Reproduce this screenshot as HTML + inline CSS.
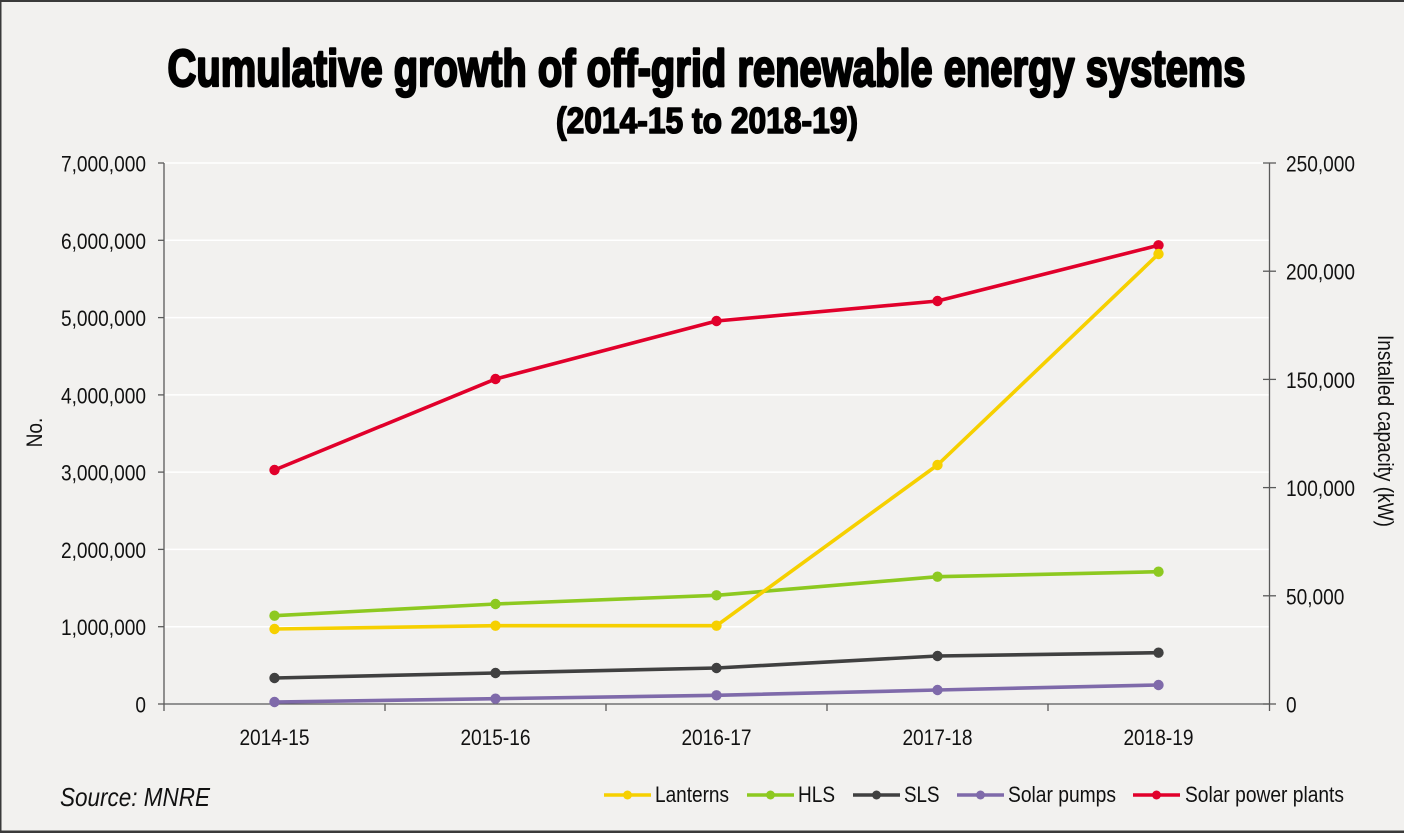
<!DOCTYPE html>
<html>
<head>
<meta charset="utf-8">
<style>
  html, body { margin:0; padding:0; background:#f2f1ef; }
  svg { display:block; }
  text { font-family: "Liberation Sans", Arial, sans-serif; fill:#111; }
</style>
</head>
<body>
<svg width="1404" height="833" viewBox="0 0 1404 833" xmlns="http://www.w3.org/2000/svg">
  <rect x="0" y="0" width="1404" height="833" fill="#f2f1ef"/>
  <!-- frame -->
  <rect x="0" y="0" width="1404" height="2" fill="#3a3a3a"/>
  <rect x="0" y="0" width="1.5" height="833" fill="#3a3a3a"/>
  <rect x="0" y="830.5" width="1404" height="2.5" fill="#3a3a3a"/>

  <!-- title -->
  <text x="706.5" y="86" font-size="52" font-weight="bold" text-anchor="middle" textLength="1078" lengthAdjust="spacingAndGlyphs" stroke="#000" stroke-width="2.4" stroke-linejoin="round" style="fill:#000">Cumulative growth of off-grid renewable energy systems</text>
  <text x="707" y="133" font-size="36" font-weight="bold" text-anchor="middle" textLength="302" lengthAdjust="spacingAndGlyphs" stroke="#000" stroke-width="1.6" stroke-linejoin="round" style="fill:#000">(2014-15 to 2018-19)</text>

  <!-- gridlines -->
  <g stroke="#ffffff" stroke-width="1.5">
    <line x1="164" y1="163" x2="1269" y2="163"/>
    <line x1="164" y1="240.3" x2="1269" y2="240.3"/>
    <line x1="164" y1="317.6" x2="1269" y2="317.6"/>
    <line x1="164" y1="394.9" x2="1269" y2="394.9"/>
    <line x1="164" y1="472.1" x2="1269" y2="472.1"/>
    <line x1="164" y1="549.4" x2="1269" y2="549.4"/>
    <line x1="164" y1="626.7" x2="1269" y2="626.7"/>
  </g>

  <!-- axes -->
  <g stroke="#5a5a5a" stroke-width="1.3" fill="none">
    <line x1="164" y1="163" x2="164" y2="711"/>
    <line x1="1269.5" y1="163" x2="1269.5" y2="711"/>
    <line x1="164" y1="704" x2="1269.5" y2="704"/>
    <line x1="158" y1="163" x2="164" y2="163"/>
    <line x1="158" y1="240.3" x2="164" y2="240.3"/>
    <line x1="158" y1="317.6" x2="164" y2="317.6"/>
    <line x1="158" y1="394.9" x2="164" y2="394.9"/>
    <line x1="158" y1="472.1" x2="164" y2="472.1"/>
    <line x1="158" y1="549.4" x2="164" y2="549.4"/>
    <line x1="158" y1="626.7" x2="164" y2="626.7"/>
    <line x1="158" y1="704" x2="164" y2="704"/>
    <line x1="1263" y1="163" x2="1276" y2="163"/>
    <line x1="1263" y1="271.2" x2="1276" y2="271.2"/>
    <line x1="1263" y1="379.4" x2="1276" y2="379.4"/>
    <line x1="1263" y1="487.6" x2="1276" y2="487.6"/>
    <line x1="1263" y1="595.8" x2="1276" y2="595.8"/>
    <line x1="1263" y1="704" x2="1276" y2="704"/>
    <line x1="385" y1="704" x2="385" y2="711"/>
    <line x1="606" y1="704" x2="606" y2="711"/>
    <line x1="827" y1="704" x2="827" y2="711"/>
    <line x1="1048" y1="704" x2="1048" y2="711"/>
  </g>

  <!-- left tick labels -->
  <g font-size="22" text-anchor="end">
    <text x="146" y="171.5" textLength="85" lengthAdjust="spacingAndGlyphs">7,000,000</text>
    <text x="146" y="248.8" textLength="85" lengthAdjust="spacingAndGlyphs">6,000,000</text>
    <text x="146" y="326.1" textLength="85" lengthAdjust="spacingAndGlyphs">5,000,000</text>
    <text x="146" y="403.4" textLength="85" lengthAdjust="spacingAndGlyphs">4,000,000</text>
    <text x="146" y="480.6" textLength="85" lengthAdjust="spacingAndGlyphs">3,000,000</text>
    <text x="146" y="557.9" textLength="85" lengthAdjust="spacingAndGlyphs">2,000,000</text>
    <text x="146" y="635.2" textLength="85" lengthAdjust="spacingAndGlyphs">1,000,000</text>
    <text x="146" y="712.5" textLength="10.6" lengthAdjust="spacingAndGlyphs">0</text>
  </g>

  <!-- right tick labels -->
  <g font-size="22">
    <text x="1286" y="171.5" textLength="69" lengthAdjust="spacingAndGlyphs">250,000</text>
    <text x="1286" y="279.7" textLength="69" lengthAdjust="spacingAndGlyphs">200,000</text>
    <text x="1286" y="387.9" textLength="69" lengthAdjust="spacingAndGlyphs">150,000</text>
    <text x="1286" y="496.1" textLength="69" lengthAdjust="spacingAndGlyphs">100,000</text>
    <text x="1286" y="604.3" textLength="58.4" lengthAdjust="spacingAndGlyphs">50,000</text>
    <text x="1286" y="712.5" textLength="10.6" lengthAdjust="spacingAndGlyphs">0</text>
  </g>

  <!-- x labels -->
  <g font-size="22" text-anchor="middle">
    <text x="274.5" y="745" textLength="70.1" lengthAdjust="spacingAndGlyphs">2014-15</text>
    <text x="495.5" y="745" textLength="70.1" lengthAdjust="spacingAndGlyphs">2015-16</text>
    <text x="716.5" y="745" textLength="70.1" lengthAdjust="spacingAndGlyphs">2016-17</text>
    <text x="937.5" y="745" textLength="70.1" lengthAdjust="spacingAndGlyphs">2017-18</text>
    <text x="1158.5" y="745" textLength="70.1" lengthAdjust="spacingAndGlyphs">2018-19</text>
  </g>

  <!-- axis titles -->
  <text x="0" y="0" font-size="22" text-anchor="middle" textLength="29.7" lengthAdjust="spacingAndGlyphs" transform="translate(42,432.5) rotate(-90)">No.</text>
  <text x="0" y="0" font-size="22" text-anchor="middle" textLength="192" lengthAdjust="spacingAndGlyphs" transform="translate(1378,431) rotate(90)">Installed capacity (kW)</text>

  <!-- series -->
  <g fill="none" stroke-width="3.6" stroke-linejoin="round" stroke-linecap="round">
    <polyline stroke="#7f6aaa" points="274.5,702 495.5,698.7 716.5,695.3 937.5,690 1158.5,685"/>
    <polyline stroke="#404040" points="274.5,678 495.5,673 716.5,668 937.5,656 1158.5,652.7"/>
    <polyline stroke="#8dc920" points="274.5,615.7 495.5,604 716.5,595.3 937.5,576.7 1158.5,571.7"/>
    <polyline stroke="#e1002b" points="274.5,470 495.5,379 716.5,321 937.5,301 1158.5,245.3"/>
    <polyline stroke="#f6d000" points="274.5,629 495.5,625.7 716.5,625.7 937.5,465 1158.5,254"/>
  </g>
  <g>
    <g fill="#7f6aaa">
      <circle cx="274.5" cy="702" r="5.2"/><circle cx="495.5" cy="698.7" r="5.2"/><circle cx="716.5" cy="695.3" r="5.2"/><circle cx="937.5" cy="690" r="5.2"/><circle cx="1158.5" cy="685" r="5.2"/>
    </g>
    <g fill="#404040">
      <circle cx="274.5" cy="678" r="5.2"/><circle cx="495.5" cy="673" r="5.2"/><circle cx="716.5" cy="668" r="5.2"/><circle cx="937.5" cy="656" r="5.2"/><circle cx="1158.5" cy="652.7" r="5.2"/>
    </g>
    <g fill="#8dc920">
      <circle cx="274.5" cy="615.7" r="5.2"/><circle cx="495.5" cy="604" r="5.2"/><circle cx="716.5" cy="595.3" r="5.2"/><circle cx="937.5" cy="576.7" r="5.2"/><circle cx="1158.5" cy="571.7" r="5.2"/>
    </g>
    <g fill="#e1002b">
      <circle cx="274.5" cy="470" r="5.2"/><circle cx="495.5" cy="379" r="5.2"/><circle cx="716.5" cy="321" r="5.2"/><circle cx="937.5" cy="301" r="5.2"/><circle cx="1158.5" cy="245.3" r="5.2"/>
    </g>
    <g fill="#f6d000">
      <circle cx="274.5" cy="629" r="5.2"/><circle cx="495.5" cy="625.7" r="5.2"/><circle cx="716.5" cy="625.7" r="5.2"/><circle cx="937.5" cy="465" r="5.2"/><circle cx="1158.5" cy="254" r="5.2"/>
    </g>
  </g>

  <!-- source -->
  <text x="60" y="806" font-size="26" font-style="italic" textLength="150" lengthAdjust="spacingAndGlyphs">Source: MNRE</text>

  <!-- legend -->
  <g stroke-width="3.4" stroke-linecap="butt">
    <line x1="604" y1="795" x2="651" y2="795" stroke="#f6d000"/>
    <line x1="747" y1="795" x2="794" y2="795" stroke="#8dc920"/>
    <line x1="853" y1="795" x2="900" y2="795" stroke="#404040"/>
    <line x1="957" y1="795" x2="1004" y2="795" stroke="#7f6aaa"/>
    <line x1="1133" y1="795" x2="1180" y2="795" stroke="#e1002b"/>
  </g>
  <circle cx="627.5" cy="795" r="4.5" fill="#f6d000"/>
  <circle cx="770.5" cy="795" r="4.5" fill="#8dc920"/>
  <circle cx="876.5" cy="795" r="4.5" fill="#404040"/>
  <circle cx="980.5" cy="795" r="4.5" fill="#7f6aaa"/>
  <circle cx="1156.5" cy="795" r="4.5" fill="#e1002b"/>
  <g font-size="22">
    <text x="655" y="802" textLength="74" lengthAdjust="spacingAndGlyphs">Lanterns</text>
    <text x="798" y="802" textLength="37" lengthAdjust="spacingAndGlyphs">HLS</text>
    <text x="904" y="802" textLength="35.5" lengthAdjust="spacingAndGlyphs">SLS</text>
    <text x="1008" y="802" textLength="108" lengthAdjust="spacingAndGlyphs">Solar pumps</text>
    <text x="1185" y="802" textLength="159" lengthAdjust="spacingAndGlyphs">Solar power plants</text>
  </g>
</svg>
</body>
</html>
